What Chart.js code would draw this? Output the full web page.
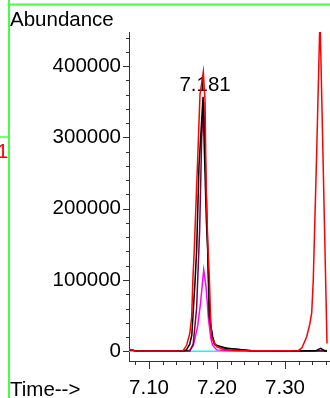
<!DOCTYPE html>
<html>
<head>
<meta charset="utf-8">
<script src="https://cdn.jsdelivr.net/npm/chart.js@4.4.1/dist/chart.umd.min.js"></script>
<style>
  html, body { margin: 0; padding: 0; background: #ffffff; }
  #wrap { position: relative; width: 330px; height: 398px; overflow: hidden; }
  canvas { display: block; }
</style>
</head>
<body>
<div id="wrap"><canvas id="c" width="330" height="398"></canvas></div>
<script>
// ---- axis ranges and tick labels ----
const X_MIN = 7.0706;
const X_MAX = 7.3662;
const Y_MIN = -13600;
const Y_MAX = 447800;
const xTickValues = [7.10, 7.20, 7.30];
const yTickValues = [0, 100000, 200000, 300000, 400000];
const peakLabelTime = 7.181;
const peakLabelText = "7.181";

// ---- red trace ----
const redTimes = [7.0706, 7.08, 7.10, 7.14, 7.150, 7.1554, 7.160, 7.1628, 7.1645, 7.1665, 7.1716, 7.175, 7.1799, 7.1825, 7.184, 7.1865, 7.1887, 7.1905, 7.1922, 7.1996, 7.21, 7.23, 7.27, 7.31, 7.3196, 7.325, 7.3319, 7.3365, 7.3393, 7.3416, 7.3466, 7.3515, 7.3618];
const redValues = [2800, 800, 500, 400, 600, 8800, 25000, 48500, 100000, 140000, 270000, 360000, 392000, 350000, 230000, 150000, 105000, 50000, 18700, 6500, 2500, 1200, 700, 600, 900, 5000, 20500, 38000, 54000, 100000, 278000, 470000, 11000];

// ---- black trace ----
const blackTimes = [7.0706, 7.08, 7.15, 7.155, 7.160, 7.163, 7.1676, 7.1701, 7.1735, 7.1795, 7.1815, 7.1845, 7.1863, 7.1887, 7.1937, 7.197, 7.2143, 7.2485, 7.30, 7.345, 7.3525, 7.358, 7.3618];
const blackValues = [2500, 600, 400, 2000, 10000, 23000, 96000, 142000, 260000, 357000, 280000, 180000, 142000, 48500, 20500, 9000, 4200, 900, 500, 600, 4200, 800, 500];

// ---- maroon trace ----
const maroonTimes = [7.0706, 7.08, 7.160, 7.165, 7.170, 7.1745, 7.1775, 7.1805, 7.1835, 7.1865, 7.189, 7.193, 7.196, 7.21, 7.25, 7.30, 7.35, 7.3618];
const maroonValues = [2500, 600, 500, 10000, 60000, 170000, 300000, 350000, 250000, 140000, 50000, 20000, 10000, 4500, 1000, 500, 800, 500];

// ---- magenta trace ----
const magentaTimes = [7.0706, 7.08, 7.15, 7.160, 7.165, 7.1685, 7.1715, 7.1755, 7.1805, 7.1840, 7.1875, 7.1910, 7.1935, 7.1996, 7.22, 7.30, 7.34, 7.3618];
const magentaValues = [2800, 600, 500, 1500, 8000, 22000, 35000, 65000, 114000, 90000, 45000, 18000, 8500, 2000, 800, 500, 800, 1000];

// ---- cyan trace ----
const cyanTimes = [7.0706, 7.3618];
const cyanValues = [0, 0];

function pts(ts, vs) { return ts.map((t, i) => ({ x: t, y: vs[i] })); }

const FONT = "'Liberation Sans', Arial, Helvetica, sans-serif";
Chart.defaults.font.family = FONT;

const deco = {
  id: 'deco',
  beforeDatasetsDraw(chart) {
    const ctx = chart.ctx;
    const xs = chart.scales.x;
    ctx.save();
    ctx.fillStyle = '#000';
    ctx.font = '20.5px ' + FONT;
    ctx.textAlign = 'center';
    ctx.textBaseline = 'alphabetic';
    ctx.fillText(peakLabelText, xs.getPixelForValue(peakLabelTime) + 1, 91);
    ctx.restore();
  },
  afterDraw(chart) {
    const ctx = chart.ctx;
    const xs = chart.scales.x, ys = chart.scales.y;
    const area = chart.chartArea;
    ctx.save();
    ctx.strokeStyle = '#333';
    ctx.lineWidth = 1;
    // y ticks (major every 100000, minor every 20000)
    for (let v = 0; v <= Y_MAX; v += 20000) {
      const y = Math.round(ys.getPixelForValue(v)) + 0.5;
      const len = (v % 100000 === 0) ? 6 : 3;
      ctx.beginPath();
      ctx.moveTo(area.left, y);
      ctx.lineTo(area.left - len, y);
      ctx.stroke();
    }
    // x ticks (major every 0.1, minor every 0.02)
    for (let k = 354; k <= 368; k++) {
      const t = k / 50;
      if (t < X_MIN || t > X_MAX) continue;
      const x = Math.round(xs.getPixelForValue(t)) + 0.5;
      const len = (k % 5 === 0) ? 8 : 4;
      ctx.beginPath();
      ctx.moveTo(x, area.bottom);
      ctx.lineTo(x, area.bottom + len);
      ctx.stroke();
    }
    // green frame lines
    ctx.strokeStyle = '#44ff44';
    ctx.lineWidth = 2;
    ctx.beginPath();
    ctx.moveTo(9, 0); ctx.lineTo(9, 398);
    ctx.moveTo(9, 4.5); ctx.lineTo(330, 4.5);
    ctx.stroke();
    ctx.lineWidth = 1.5;
    ctx.beginPath();
    ctx.moveTo(0, 137); ctx.lineTo(9, 137);
    ctx.stroke();
    // texts
    ctx.font = '20.5px ' + FONT;
    ctx.textAlign = 'left';
    ctx.textBaseline = 'alphabetic';
    ctx.fillStyle = '#000';
    ctx.fillText('Abundance', 10, 26);
    ctx.fillText('Time-->', 10, 396);
    ctx.fillStyle = '#ff0000';
    ctx.fillText('1', -3, 158);
    ctx.restore();
  }
};

new Chart(document.getElementById('c'), {
  type: 'line',
  data: {
    datasets: [
      { label: 'red', data: pts(redTimes, redValues), borderColor: '#ff0000' },
      { label: 'black', data: pts(blackTimes, blackValues), borderColor: '#000000' },
      { label: 'maroon', data: pts(maroonTimes, maroonValues), borderColor: '#800040' },
      { label: 'magenta', data: pts(magentaTimes, magentaValues), borderColor: '#ff00ff' },
      { label: 'cyan', data: pts(cyanTimes, cyanValues), borderColor: '#00ffff' }
    ]
  },
  options: {
    responsive: false,
    animation: false,
    devicePixelRatio: 1,
    layout: { padding: { top: 32, left: 0, right: 0, bottom: 0 } },
    plugins: { legend: { display: false }, tooltip: { enabled: false } },
    elements: {
      point: { radius: 0 },
      line: { tension: 0, borderWidth: 1.5, fill: false }
    },
    scales: {
      x: {
        type: 'linear',
        min: X_MIN, max: X_MAX,
        afterBuildTicks: s => { s.ticks = xTickValues.map(v => ({ value: v })); },
        afterFit: s => { s.height = 37; },
        ticks: {
          callback: v => Number(v).toFixed(2),
          font: { size: 20.5, family: FONT },
          color: '#000',
          padding: 15,
          maxRotation: 0,
          autoSkip: false
        },
        grid: { display: true, drawOnChartArea: false, drawTicks: false },
        border: { display: true, color: '#333', width: 1 }
      },
      y: {
        type: 'linear',
        min: Y_MIN, max: Y_MAX,
        afterBuildTicks: s => { s.ticks = yTickValues.map(v => ({ value: v })); },
        afterFit: s => { s.width = 129; },
        ticks: {
          callback: v => String(v),
          font: { size: 20.5, family: FONT },
          color: '#000',
          padding: 8
        },
        grid: { display: true, drawOnChartArea: false, drawTicks: false },
        border: { display: true, color: '#333', width: 1 }
      }
    }
  },
  plugins: [deco]
});
</script>
</body>
</html>
